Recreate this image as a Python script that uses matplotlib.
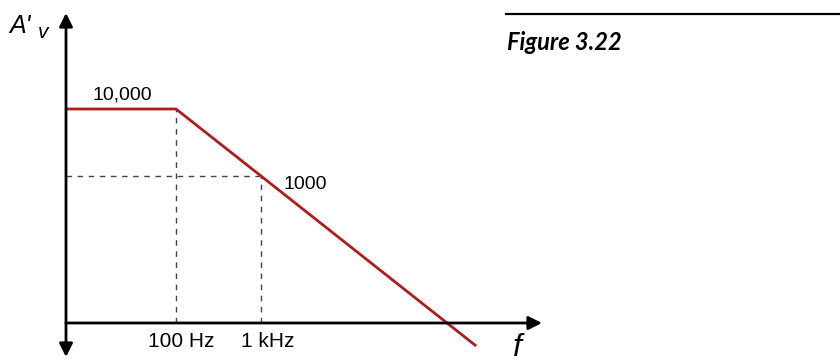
import numpy as np
import matplotlib.pyplot as plt

# Bode magnitude asymptote (log-log)
freq = [5.1, 100, 1e3, 3.4e5]
gain = [1e4, 1e4, 1e3, 2.9]
corner_f = 100
unity_mark_f = 1e3
mark_gain = 1e3
tick_labels = ['100 Hz', '1 kHz']
gain_labels = ['10,000', '1000']

W, H = 840, 362
fig = plt.figure(figsize=(W / 100, H / 100), dpi=100)
ax = fig.add_axes([0, 0, 1, 1])
ax.set_xscale('log')
ax.set_yscale('log')

# pixel layout: 100 Hz at x=176, 85 px per decade; 10^4 at y=109, 67 px per decade
px_dec_x, px_dec_y = 85.0, 67.0
x0 = 100 * 10 ** (-176 / px_dec_x)
x1 = 100 * 10 ** ((W - 176) / px_dec_x)
y_top = 1e4 * 10 ** (109 / px_dec_y)
y_bot = 1e4 * 10 ** (-(H - 109) / px_dec_y)
ax.set_xlim(x0, x1)
ax.set_ylim(y_bot, y_top)
ax.axis('off')

def fx(px):
    return 100 * 10 ** ((px - 176) / px_dec_x)

def fy(py):
    return 1e4 * 10 ** (-(py - 109) / px_dec_y)

f_org = fx(66)
g_org = fy(323)

# axes with arrows
arr = dict(arrowstyle='-|>', lw=2, color='black', mutation_scale=20, shrinkA=0, shrinkB=0)
ax.annotate('', xy=(f_org, fy(13)), xytext=(f_org, g_org), arrowprops=arr)
ax.annotate('', xy=(f_org, fy(357)), xytext=(f_org, g_org), arrowprops=arr)
ax.annotate('', xy=(fx(542), g_org), xytext=(f_org, g_org), arrowprops=arr)

# dashed guides
dash = dict(color='#444444', lw=1, ls=(0, (4, 4)))
ax.plot([corner_f, corner_f], [g_org, gain[1]], **dash)
ax.plot([unity_mark_f, unity_mark_f], [g_org, mark_gain], **dash)
ax.plot([f_org, unity_mark_f], [mark_gain, mark_gain], **dash)

# response
ax.plot(freq, gain, color='#b01c1c', lw=2, solid_capstyle='butt')

lab = dict(family=['Liberation Sans', 'DejaVu Sans'], va='baseline')
ax.text(fx(92), fy(100), gain_labels[0], fontsize=14, ha='left', **lab)
ax.text(fx(283), fy(189), gain_labels[1], fontsize=14, ha='left', **lab)
ax.text(fx(181), fy(347), tick_labels[0], fontsize=15, ha='center', **lab)
ax.text(fx(268), fy(347), tick_labels[1], fontsize=15, ha='center', **lab)
ax.text(fx(513), fy(356), 'f', fontsize=23, style='italic', ha='left', **lab)

fig.text(9 / W, 1 - 33 / H, "A'", fontsize=18, style='italic', ha='left', **lab)
fig.text(38 / W, 1 - 38 / H, "v", fontsize=15, style='italic', ha='left', **lab)

# caption
fig.add_artist(plt.Line2D([506 / W, 1], [1 - 14 / H, 1 - 14 / H], color='black', lw=1.6))
fig.text(507 / W, 1 - 50 / H, 'Figure 3.22', fontsize=17, weight='bold', style='italic',
         family='Lato', ha='left', va='baseline')

fig.savefig('out.png', dpi=100)
